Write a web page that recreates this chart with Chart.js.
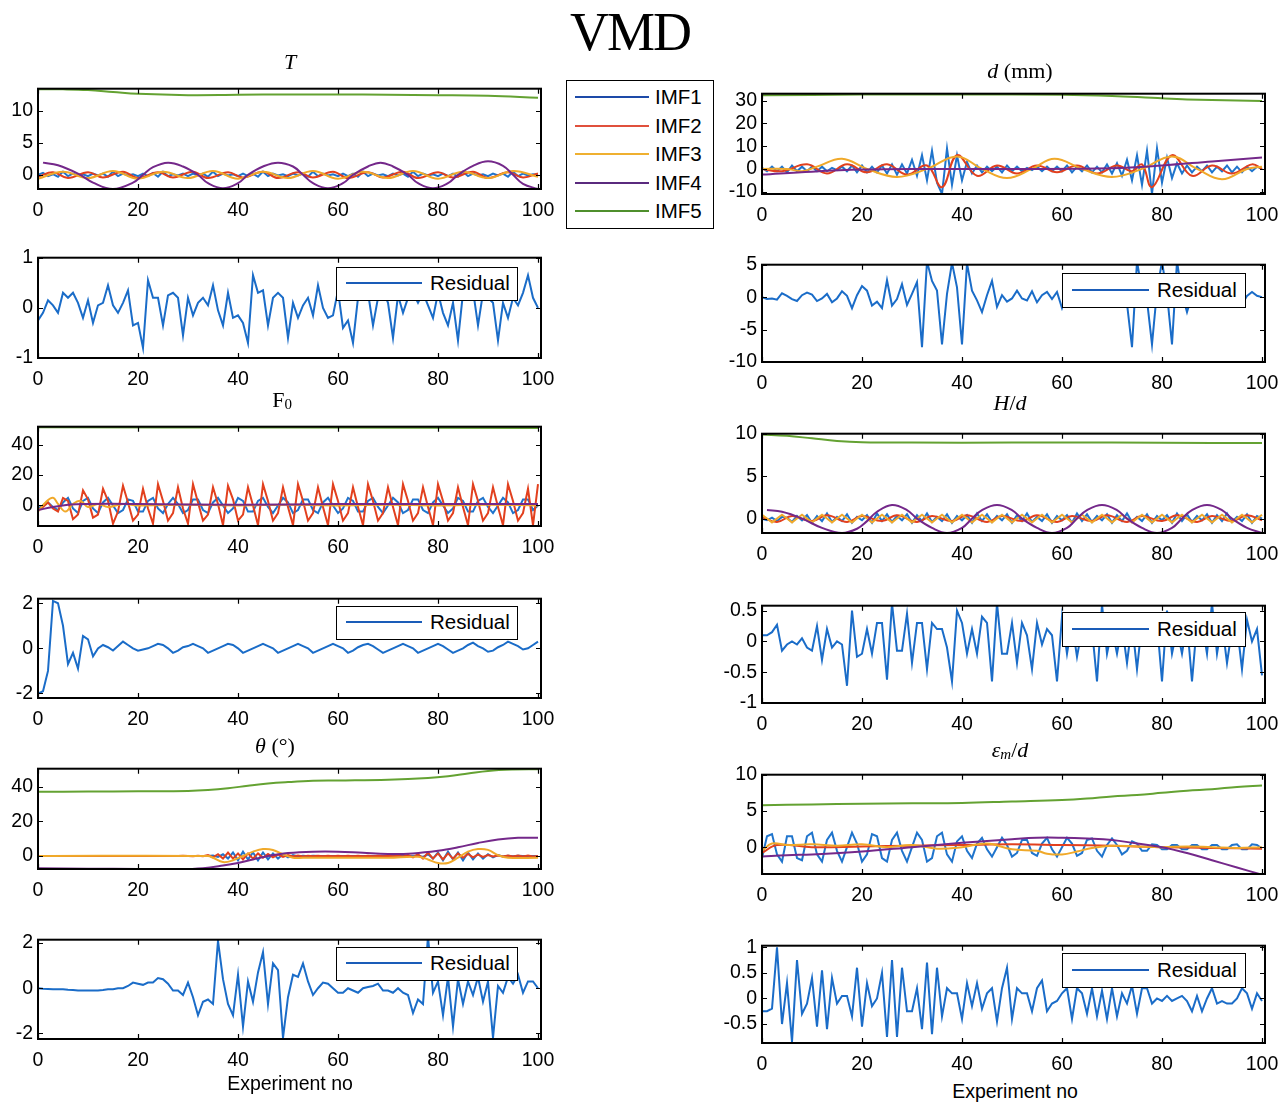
<!DOCTYPE html>
<html>
<head>
<meta charset="utf-8">
<script src="https://cdn.jsdelivr.net/npm/chart.js@4.4.0/dist/chart.umd.min.js"></script>
<style>
body{margin:0;background:#fff;width:1287px;height:1105px;position:relative;overflow:hidden;font-family:"Liberation Sans",Arial,sans-serif;color:#000}
.panel{position:absolute}
.ttl{position:absolute;transform:translate(-50%,-50%);font-family:"Liberation Serif","Times New Roman",serif;font-size:22px;white-space:nowrap}
.ttl sub{font-size:15px;vertical-align:-2px}
.xlab{position:absolute;transform:translate(-50%,-50%);font-size:19.5px}
.leg{position:absolute;border:1.5px solid #000;background:#fff;box-sizing:border-box}
.leg .row{position:absolute;left:0;right:0;height:22px}
.leg .ln{position:absolute;height:2px;top:10px}
.leg .tx{position:absolute;top:0;font-size:20.5px;line-height:22px}
#vmd{position:absolute;left:630px;top:32px;transform:translate(-50%,-50%);font-family:"Liberation Serif","Times New Roman",serif;font-size:54px;letter-spacing:-2px}
</style>
</head>
<body>
<div id="vmd">VMD</div>

<script>
// ---- axis ticks ----
const xTicks = [0, 20, 40, 60, 80, 100]
const xMax = 100.6

// ---- T ----
const tImf1 = [
  0, 0.3, -0.2, 0.1, -0.3, 0.5, -0.2, 0.2, -0.1, 0.1,
  -0.2, 0.2, -0.1, 0.2, -0.3, 0.5, -0.2, 0.2, -0.1, 0.1,
  -0.2, 0.2, -0.2, 0.3, -0.3, 0.5, -0.2, 0.1, -0.1, 0.2,
  -0.2, 0.2, -0.1, 0.2, -0.3, 0.5, -0.2, 0.2, -0.1, 0.1,
  -0.2, 0.2, -0.2, 0.2, -0.3, 0.5, -0.2, 0.2, -0.1, 0.1,
  -0.2, 0.2, -0.1, 0.2, -0.3, 0.5, -0.2, 0.2, -0.1, 0.1,
  -0.2, 0.2, -0.2, 0.2, -0.3, 0.5, -0.2, 0.2, -0.1, 0.1,
  -0.2, 0.2, -0.1, 0.2, -0.3, 0.5, -0.2, 0.2, -0.1, 0.1,
  -0.2, 0.2, -0.2, 0.2, -0.3, 0.5, -0.2, 0.2, -0.1, 0.1,
  -0.2, 0.2, -0.1, 0.2, -0.3, 0.5, -0.2, 0.2, -0.1, 0.1,
  0]
const tImf2X = [0,3,6,10,13,17,20,24,27,31,34,38,41,45,48,52,55,59,62,66,69,73,76,80,83,87,90,94,97,100]
const tImf2Y = [-0.3,0.4,-0.5,0.4,-0.4,0.5,-0.5,0.4,-0.4,0.5,-0.5,0.4,-0.4,0.5,-0.5,0.4,-0.4,0.5,-0.5,0.4,-0.4,0.5,-0.5,0.4,-0.4,0.5,-0.5,0.4,-0.4,0.2]
const tImf3X = [0,5,10,15,20,25,30,35,40,45,50,55,60,65,70,75,80,85,90,95,100]
const tImf3Y = [-0.6,0.5,-0.5,0.6,-0.6,0.5,-0.5,0.6,-0.6,0.5,-0.5,0.6,-0.6,0.5,-0.5,0.6,-0.6,0.5,-0.5,0.6,-0.3]
const tImf4X = [1,4,8,11,15,19,21,23,26,29,32,34,37,40,42,45,48,51,53,55,58,61,63,66,68.5,71,74,76,79,82,84,87,90,93,95,97,100]
const tImf4Y = [1.9,1.5,0.2,-1.2,-2.2,-1.2,0,1.2,1.9,1.3,0,-1.3,-2.1,-1.3,0,1.3,1.9,1.3,0,-1.3,-2.1,-1.3,0,1.3,1.9,1.3,0,-1.3,-2.1,-1.3,0,1.4,2.1,1.4,0,-1.4,-2.2]
const tImf5X = [0,5,10,15,20,30,40,50,60,70,80,90,100]
const tImf5Y = [13.3,13.3,13.2,12.9,12.6,12.4,12.45,12.5,12.5,12.45,12.4,12.3,12.0]
const tRes = [
  -0.25,-0.1,0.15,0.05,-0.1,0.3,0.2,0.3,0.1,-0.2,
  0.15,-0.3,0.05,0.1,0.45,0.05,-0.1,0.1,0.35,-0.35,
  -0.3,-0.8,0.55,0.2,0.2,-0.35,0.25,0.3,0.2,-0.55,
  0.2,-0.15,0.1,0.2,0.05,0.45,-0.05,-0.35,0.3,-0.2,
  -0.15,-0.3,-0.7,0.65,0.3,0.35,-0.35,0.2,0.3,0.2,
  -0.6,0.1,-0.2,0.05,0.2,-0.15,0.45,0,-0.2,-0.15,
  0.35,-0.4,-0.25,-0.7,0.2,0.4,0.3,-0.35,0.2,0.35,
  0.1,-0.6,0.25,-0.1,0.2,0.3,0.1,0.3,0.05,-0.2,
  0.3,-0.1,-0.35,0.1,-0.65,0.3,0.2,0.35,-0.35,0.3,
  0.2,0.1,-0.65,0.1,-0.2,0.2,0.05,0.3,0.65,0.2,
  0]

// ---- d (mm) ----
const dImf1 = [
  0.5,-1,1,-1,1,-1.5,1.5,-1,1,-1,
  1,-1,1,-1,0.5,-0.5,1,-1,1.5,-1.5,
  1.5,-1.5,1,-1.5,1.5,-2,2,-2.5,2,-2,
  4,-3,6,-5,8,-6,-11,9,-7,6,
  -5,3,-2,1.5,-1.5,1,-1,1,-1.5,1.5,
  -1,1,-1,0.5,-0.5,1,-1,1,-1,1,
  -1,1.5,-1.5,1,-1,1.5,-1.5,1,-1.5,2,
  -2,2.5,-3,4,-5,6,-7,8,-11,9,
  -6,5,-4,2.5,-2,1.5,-1.5,1,-1,1.5,
  -1.5,1,-1,1.5,-1.5,1,-1.5,1,-1,1,
  0]
const dImf2X = [0,4,9,13,17,21,25,29,33,36,39,43,47,51,55,59,63,67,71,74,76,78,82,86,90,94,98,100]
const dImf2Y = [0,-1,2,-2,2,-1.5,2,-2.5,1.5,-8,6,-3,1.5,-2,1.5,-1.5,1.5,-2,1.5,-1,2,-8,6,-3,1.5,-2,2,0]
const dImf3X = [0,5,8,11,16,21,27,33,39,44,49,54,58.5,64,70,76,82,87,92,97,100]
const dImf3Y = [0,0,-1,1,4.5,0,-3.5,0,5.5,0,-4,0,4.5,0,-3.5,0,5.5,0,-4.5,0,1]
const dImf4X = [0,10,20,30,50,70,80,90,100]
const dImf4Y = [-2.5,-1.2,-0.3,0,0,0.3,1.5,3.3,5]
const dImf5X = [0,20,40,60,70,78,85,100]
const dImf5Y = [32.3,32.6,32.7,32.5,32,31.2,30.5,29.8]
const dRes = [
  0,-0.3,-0.2,-0.4,0.6,0.2,-0.3,-0.6,0.3,0.7,
  0.4,-0.6,-0.2,0.5,-0.8,-0.2,0.9,0.2,-1.7,0.3,
  1.7,1.0,-1.3,-0.7,-1.7,2.6,-1.3,-0.3,2.0,-1.2,
  0.5,2.3,-7.7,5.5,2.5,1.0,-7.3,0.5,5.3,1.5,
  -7.3,5.2,1.0,-0.5,-2.3,0.3,2.5,-1.5,0.3,-0.7,
  -0.2,1.0,-0.2,-0.5,0.9,-0.8,0.3,0.8,-0.3,0.8,
  -1.7,0.5,1.0,-0.5,0.3,-0.8,0.5,-0.5,1.0,-0.8,
  0.4,-1.2,1.5,-1.0,-7.7,5.5,1.0,-0.5,-7.3,1.0,
  5.5,0.5,-7.3,5.5,0.5,-2.3,0.3,-0.8,0.6,-0.6,
  0.3,-0.4,0.5,-0.5,0.4,-0.4,-1.2,0.2,0.8,0.2,
  0]

// ---- F0 ----
const fImf1 = [
  -2,0,2,-1,-3,2,5,-2,-5,3,
  5,-2,-5,2,5,0,-5,-3,4,3,
  -4,-4,3,5,-2,-5,1,5,1,-5,
  -3,4,4,-3,-5,2,5,0,-5,-2,
  5,3,-4,-4,3,5,-1,-5,0,5,
  2,-5,-3,4,4,-3,-5,2,5,0,
  -5,-2,5,3,-4,-4,3,5,-1,-5,
  0,5,2,-5,-3,4,4,-3,-5,2,
  5,0,-5,-2,5,3,-4,-4,3,5,
  -1,-5,0,5,2,-5,-3,4,4,-3,
  0]
const fImf2 = [
  -3,-1,2,-2,-4,5,3,-9,-6,10,
  4,-8,-6,11,3,-12,-4,13,2,-10,
  -6,11,-2,-12,14,3,-10,-5,12,-2,
  -12,14,2,-10,-6,12,1,-13,13,4,
  -10,-6,12,0,-13,14,3,-10,-5,12,
  -1,-13,14,3,-10,-5,12,-1,-13,14,
  3,-10,-5,12,-1,-13,14,3,-10,-5,
  12,-1,-13,14,3,-10,-5,12,-1,-13,
  14,3,-10,-5,12,-1,-13,14,3,-10,
  -5,12,-1,-13,14,3,-10,-5,11,-13,
  14]
const fImf3X = [0,1.5,3,4,5.5,7,8.5,10,12,14,17,20,30,40,50,60,70,80,90,100]
const fImf3Y = [-4,2,5,1,-4,1,3,-1,1,-1,1,0,0.5,0,0.5,0,0.5,0,0.5,0]
const fImf4X = [0,3,6,10,20,40,60,80,100]
const fImf4Y = [-3,-1,0.5,1,1,0.5,1,1,1]
const fImf5X = [0,50,100]
const fImf5Y = [51.4,51.2,51.0]
const fRes = [
  -2.0,-1.9,-1.0,2.1,2.0,1.0,-0.7,-0.2,-0.9,0.55,
  0.4,-0.35,0.0,0.15,0.05,-0.1,0.1,0.3,0.15,0.0,
  -0.1,-0.05,0,0.1,0.2,0.15,0,-0.2,-0.1,0.05,
  0.1,0.2,0.1,0,-0.2,-0.1,0,0.1,0.2,0.15,
  0,-0.2,-0.1,0,0.1,0.2,0.1,0,-0.2,-0.1,
  0,0.1,0.2,0.1,0,-0.2,-0.1,0,0.1,0.2,
  0.1,0,-0.2,-0.1,0.05,0.15,0.2,0.1,-0.05,-0.2,
  -0.1,0,0.1,0.2,0.1,0,-0.2,-0.1,0,0.1,
  0.2,0.1,-0.05,-0.2,-0.1,0,0.15,0.25,0.1,0,
  -0.15,-0.1,0.05,0.15,0.3,0.2,0.1,-0.05,0,0.15,
  0.3]

// ---- H/d ----
const hImf1 = [
  0,-0.2,0.1,-0.3,0.2,0.1,-0.4,0.3,-0.2,0.4,
  -0.5,0.3,-0.3,0.6,-0.4,0.2,-0.3,0.5,-0.5,0.2,
  -0.2,0.4,-0.5,0.6,-0.3,0.5,-0.4,0.3,-0.2,0.5,
  -0.5,0.4,-0.3,0.6,-0.4,0.2,-0.3,0.5,-0.5,0.3,
  -0.2,0.4,-0.5,0.6,-0.3,0.5,-0.4,0.3,-0.2,0.5,
  -0.5,0.4,-0.3,0.6,-0.4,0.2,-0.3,0.5,-0.5,0.3,
  -0.2,0.4,-0.5,0.6,-0.3,0.5,-0.4,0.3,-0.2,0.5,
  -0.5,0.4,-0.3,0.6,-0.4,0.2,-0.3,0.5,-0.5,0.3,
  -0.2,0.4,-0.5,0.6,-0.3,0.5,-0.4,0.3,-0.2,0.5,
  -0.5,0.4,-0.3,0.6,-0.4,0.2,-0.3,0.5,-0.5,0.3,
  0]
const hImf2X = [0,3,6,10,13,17,20,24,27,31,34,38,41,45,48,52,55,59,62,66,69,73,76,80,83,87,90,94,97,100]
const hImf2Y = [0.2,-0.4,0.3,-0.3,0.4,-0.4,0.3,-0.3,0.4,-0.4,0.3,-0.3,0.4,-0.4,0.3,-0.3,0.4,-0.4,0.3,-0.3,0.4,-0.4,0.3,-0.3,0.4,-0.4,0.3,-0.3,0.4,-0.2]
const hImf3 = [
  0.45,0,-0.45,0,0.45,0,-0.45,0,0.45,0,
  -0.45,0,0.45,0,-0.45,0,0.45,0,-0.45,0,
  0.45,0,-0.45,0,0.45,0,-0.45,0,0.45,0,
  -0.45,0,0.45,0,-0.45,0,0.45,0,-0.45,0,
  0.45,0,-0.45,0,0.45,0,-0.45,0,0.45,0,
  -0.45,0,0.45,0,-0.45,0,0.45,0,-0.45,0,
  0.45,0,-0.45,0,0.45,0,-0.45,0,0.45,0,
  -0.45,0,0.45,0,-0.45,0,0.45,0,-0.45,0,
  0.45,0,-0.45,0,0.45,0,-0.45,0,0.45,0,
  -0.45,0,0.45,0,-0.45,0,0.45,0,-0.45,0,
  0.45]
const hImf4X = [1,4,8,12,16,19,21,23,26,29,31,34,37,40,42,44,47,50,52,55,58,61,63,65,68,71,73,76,79,82,84,86,89,92,94,97,100]
const hImf4Y = [1.0,0.8,0,-1.1,-1.7,-1.2,-0.3,0.8,1.6,1.0,0,-1.1,-1.7,-1.1,0,1.0,1.6,1.0,0,-1.1,-1.7,-1.1,0,1.0,1.6,1.0,0,-1.1,-1.7,-1.1,0,1.0,1.6,1.0,0,-1.1,-1.7]
const hImf5X = [0,5,10,15,20,30,50,70,90,100]
const hImf5Y = [9.9,9.75,9.45,9.15,9.0,8.95,8.95,8.95,8.9,8.9]
const hRes = [
  0.1,0.1,0.15,0.27,-0.15,-0.05,0.0,-0.05,0.05,-0.1,
  -0.15,0.25,-0.3,0.2,-0.1,0.0,-0.05,-0.72,0.5,-0.25,
  -0.2,0.2,-0.2,0.3,0.3,-0.62,0.62,-0.15,-0.15,0.45,
  -0.35,0.3,0.3,-0.45,0.3,0.2,0.2,-0.1,-0.65,0.5,
  0.3,-0.2,0.2,-0.2,0.4,0.3,-0.65,0.62,-0.2,-0.2,
  0.3,-0.35,0.3,0.1,-0.45,0.3,-0.05,0.2,0.1,-0.65,
  0.4,-0.2,0.3,-0.25,0.2,0.1,0.2,-0.65,0.6,-0.2,
  0.2,-0.2,0.25,-0.35,0.3,-0.45,0.3,0.1,0.2,0.3,
  -0.65,0.5,-0.2,0.2,-0.2,0.3,-0.65,0.3,0.3,-0.2,
  0.62,-0.2,0.3,-0.35,0.2,0.25,-0.45,0.35,0.0,0.2,
  -0.55]

// ---- theta ----
const thImf1 = [
  0,0,0,0,0,0,0,0,0,0,
  0,0,0,0,0,0,0,0,0,0,
  0,0,0,0,0,0,0,0,0,0,
  0,0,0,0,0,0.3,-0.5,1,-1.5,2,
  -2.5,2.5,-2,2,-2.5,2,-2,1.5,-1.5,1,
  -0.8,0.5,-0.3,0.2,-0.1,0.1,0,0,0,0,
  0,0,0,0,0,0,0,0,0,0,
  0,0,0,0,0,0,0.3,-0.5,1,-1.5,
  2,-2.5,2.5,-2,2,-2.5,2,-2,1.5,-1.5,
  1,-0.8,0.5,-0.3,0.2,-0.1,0.1,0,0,0,
  0]
const thImf2 = [
  0,0,0,0,0,0,0,0,0,0,
  0,0,0,0,0,0,0,0,0,0,
  0,0,0,0,0,0,0,0,0,0.1,
  0,-0.1,0.2,-0.2,0.5,-0.8,1,-1.5,2,-1.5,
  1.5,-2,1.5,-1.5,1.5,-1,1.2,-0.8,0.8,-0.5,
  0.5,-0.3,0.3,-0.3,0.2,-0.2,0.2,-0.2,0.2,-0.2,
  0.2,-0.2,0.2,-0.2,0.2,-0.2,0.2,-0.2,0.2,-0.2,
  0.2,-0.2,0.2,-0.3,0.5,-0.8,1,-1.5,2,-1.5,
  1.5,-2,1.5,-1.5,1.5,-1,1.2,-0.8,0.8,-0.5,
  0.5,-0.3,0.3,-0.3,0.3,-0.3,0.3,-0.3,0.3,-0.3,
  0]
const thImf3X = [0,34,35,37,39,41,43,45,47,49,51,53,56,70,76,78,80,82,84,86,88,90,92,94,100]
const thImf3Y = [0,0,-1,-3.5,-2.5,0,2.5,4,3.5,1,-1,-1,-1,-1,-0.5,-2,-4,-4,-1,2.5,4,3.5,0.5,-1,-1]
const thImf4X = [0,10,20,28,33,37,40,43,46,50,55,60,65,70,75,80,84,88,92,96,100]
const thImf4Y = [-7,-7.3,-7.5,-7.6,-7,-5.5,-4,-2,0,1.7,2.5,2.5,1.8,1.2,1.5,3,5,7.5,9.5,10.5,10.5]
const thImf5X = [0,10,20,30,34,38,42,46,50,55,60,70,78,82,86,90,95,100]
const thImf5Y = [37,37.1,37.3,37.5,38,39,40.5,41.8,42.6,43.3,43.5,44,45,46,47.5,49,49.8,50]
const thRes = [
  0,-0.02,-0.03,-0.05,-0.05,-0.05,-0.07,-0.08,-0.1,-0.1,
  -0.1,-0.1,-0.1,-0.08,-0.05,-0.05,0,0,0.1,0.25,
  0.2,0.15,0.25,0.25,0.45,0.4,0.2,-0.1,-0.1,-0.3,
  0.25,-0.4,-1.2,-0.6,-0.5,-0.7,2.1,0.4,-0.7,-1.2,
  0.6,-1.7,0.3,-0.6,0.7,1.6,-0.7,1.1,0.8,-2.2,
  -0.4,0.6,0.5,1.1,0.3,-0.3,0.0,0.25,0.2,0.0,
  -0.2,-0.2,0.0,-0.1,-0.2,0.0,0.05,0.1,0.2,-0.1,
  -0.1,-0.2,0.0,-0.2,-0.3,-1.1,-0.5,-0.7,2.3,-0.2,
  0.3,-1.2,0.5,-1.7,0.4,-0.7,0.3,-0.3,0.5,-0.6,
  0.3,-2.2,0.1,-0.2,0.5,0.2,0.6,-0.2,0.3,0.3,
  0]

// ---- eps_m/d ----
const eImf1 = [
  -1.5,1.5,1.8,-1,-2,1.5,1.5,-1.5,-1.8,1.5,
  2,-1,-2,1,2,-0.5,-2,0,2,0.5,
  -2,-1,1.8,1.5,-1.5,-2,1,2,-0.5,-2,
  0,2,1,-2,-1.5,1.5,2,-1,-2,0.8,
  1.5,-0.5,-1.5,0.5,1.3,-0.3,-1.3,0,1.3,0.3,
  -1.3,-0.8,1,1,-0.8,-1.2,0.5,1.3,-0.3,-1.3,
  0,1.3,0.5,-1.2,-0.8,1,1.2,-0.5,-1.3,0.3,
  1.2,0.3,-1,-0.5,0.8,0.5,-0.5,-0.5,0.4,0.3,
  -0.3,-0.3,0.3,0.3,-0.3,-0.3,0.3,0.3,-0.3,-0.3,
  0.3,0.3,-0.3,-0.3,0.3,0.4,-0.3,-0.3,0.4,0.3,
  -0.2]
const eImf2X = [0,3,10,20,30,40,50,60,70,80,90,100]
const eImf2Y = [-0.8,0.3,0,0.1,0.2,0.3,0.4,0.3,0.2,0,-0.1,-0.2]
const eImf3X = [0,2,5,10,15,20,25,30,35,40,45,50,55,57,60,63,66,70,75,80,85,90,95,100]
const eImf3Y = [-0.5,0.5,0.3,0.4,0.2,0.4,0,0.3,-0.2,0,0.5,-0.3,-0.5,-0.9,-1,-0.6,-0.1,0.2,0.1,0,0.1,0,-0.1,0]
const eImf4X = [0,5,10,20,30,40,50,55,60,65,70,75,80,85,90,95,100]
const eImf4Y = [-1.3,-1.1,-1.0,-0.6,0,0.6,1.1,1.3,1.3,1.2,1.0,0.5,0,-0.8,-1.8,-2.8,-3.8]
const eImf5X = [0,10,20,30,40,50,60,65,70,75,80,85,90,95,100]
const eImf5Y = [5.8,5.9,6.0,6.05,6.1,6.3,6.5,6.7,7.0,7.2,7.5,7.8,8.0,8.3,8.5]
const eRes = [
  -0.25,-0.25,-0.2,1.0,-0.5,0.3,-0.85,0.75,-0.3,-0.1,
  0.4,-0.55,0.55,-0.6,0.4,-0.1,0.05,0.05,-0.35,0.6,
  -0.55,0.3,-0.15,0.0,0.5,-0.75,0.75,-0.75,0.6,-0.25,
  -0.25,0.2,-0.6,0.7,-0.7,0.6,-0.35,0.2,0.1,0.1,
  -0.4,0.3,-0.15,0.3,-0.2,0.1,0.2,-0.45,0.2,0.6,
  -0.4,0.2,0.1,0.1,-0.25,0.2,0.35,-0.25,-0.1,-0.05,
  0.1,0.2,-0.4,0.2,0.1,-0.3,0.2,-0.35,0.15,-0.4,
  0.2,-0.35,0.1,-0.1,0.25,-0.3,0.2,0.2,-0.1,0.0,
  -0.05,0.05,-0.05,0.0,0.05,-0.05,-0.25,0.05,-0.25,0.0,
  0.2,-0.1,-0.05,-0.1,-0.1,0.0,0.2,0.1,-0.2,0.1,
  -0.05]

// ---- colours ----
const C_IMF1 = '#1f74cc'
const C_IMF2 = '#e2401e'
const C_IMF3 = '#f0a92a'
const C_IMF4 = '#74288a'
const C_IMF5 = '#64a232'
const C_RES = '#1a6cc8'

const tickFont = {family: '"Liberation Sans", Arial, sans-serif', size: 19.5}

function pts(ys, xs){
    return ys.map((y, i) => ({x: xs ? xs[i] : i, y: y}))
}

function line(data, color, smooth, order){
    return {data: data, borderColor: color, borderWidth: 2, tension: smooth ? 0.4 : 0, pointRadius: 0, order: order || 0}
}

function imfSets(i1, i2, i3, i4, i5){
    return [
        line(i1[0], C_IMF1, i1[1], 5),
        line(i2[0], C_IMF2, i2[1], 4),
        line(i3[0], C_IMF3, i3[1], 3),
        line(i4[0], C_IMF4, i4[1], 2),
        line(i5[0], C_IMF5, i5[1], 1)
    ]
}

// box and inward tick marks, like the original axes
const framePlugin = {
    id: 'frame',
    afterDatasetsDraw(chart){
        const {ctx, chartArea: a, scales} = chart
        ctx.save()
        ctx.strokeStyle = '#000'
        ctx.lineWidth = 1.2
        ctx.beginPath()
        scales.x.ticks.forEach(t => {
            const px = Math.round(scales.x.getPixelForValue(t.value)) + 0.5
            ctx.moveTo(px, a.bottom); ctx.lineTo(px, a.bottom - 5)
            ctx.moveTo(px, a.top); ctx.lineTo(px, a.top + 5)
        })
        scales.y.ticks.forEach(t => {
            const py = Math.round(scales.y.getPixelForValue(t.value)) + 0.5
            ctx.moveTo(a.left, py); ctx.lineTo(a.left + 5, py)
            ctx.moveTo(a.right, py); ctx.lineTo(a.right - 5, py)
        })
        ctx.stroke()
        ctx.lineWidth = 2
        ctx.strokeRect(a.left, a.top, a.width, a.height)
        ctx.restore()
    }
}

const PADL = 54, PADR = 26, PADT = 14, PADB = 36

function makePanel(left, top, width, height, yMin, yMax, yTicks, datasets){
    const div = document.createElement('div')
    div.className = 'panel'
    div.style.left = (left - PADL) + 'px'
    div.style.top = (top - PADT) + 'px'
    div.style.width = (width + PADL + PADR) + 'px'
    div.style.height = (height + PADT + PADB) + 'px'
    const canvas = document.createElement('canvas')
    div.appendChild(canvas)
    document.body.appendChild(div)

    return new Chart(canvas, {
        type: 'line',
        data: {datasets: datasets},
        options: {
            responsive: true,
            maintainAspectRatio: false,
            animation: false,
            layout: {padding: {left: 0, right: PADR, top: PADT, bottom: 0}},
            plugins: {legend: {display: false}, tooltip: {enabled: false}},
            scales: {
                x: {
                    type: 'linear', min: 0, max: xMax,
                    afterBuildTicks: s => { s.ticks = xTicks.map(v => ({value: v})) },
                    afterFit: s => { s.height = PADB },
                    grid: {display: false, drawTicks: false}, border: {display: false},
                    ticks: {font: tickFont, color: '#000', padding: 10, maxRotation: 0, autoSkip: false, callback: v => String(v)}
                },
                y: {
                    type: 'linear', min: yMin, max: yMax,
                    afterBuildTicks: s => { s.ticks = yTicks.map(v => ({value: v})) },
                    afterFit: s => { s.width = PADL },
                    grid: {display: false, drawTicks: false}, border: {display: false},
                    ticks: {font: tickFont, color: '#000', padding: 5, autoSkip: false, callback: v => String(v)}
                }
            }
        },
        plugins: [framePlugin]
    })
}

const LX = 38, RX = 762, W = 503

// left column
makePanel(LX, 86, W, 103, -2.2, 13.4, [0, 5, 10], imfSets(
    [pts(tImf1), false], [pts(tImf2Y, tImf2X), true], [pts(tImf3Y, tImf3X), true],
    [pts(tImf4Y, tImf4X), true], [pts(tImf5Y, tImf5X), true]))
makePanel(LX, 255, W, 103, -1, 1, [-1, 0, 1], [line(pts(tRes), C_RES, false)])
makePanel(LX, 424, W, 102, -13.5, 51.8, [0, 20, 40], imfSets(
    [pts(fImf1), false], [pts(fImf2), false], [pts(fImf3Y, fImf3X), true],
    [pts(fImf4Y, fImf4X), true], [pts(fImf5Y, fImf5X), true]))
makePanel(LX, 596, W, 102, -2.2, 2.2, [-2, 0, 2], [line(pts(fRes), C_RES, false)])
makePanel(LX, 766, W, 103, -7.5, 50.3, [0, 20, 40], imfSets(
    [pts(thImf1), false], [pts(thImf2), false], [pts(thImf3Y, thImf3X), true],
    [pts(thImf4Y, thImf4X), true], [pts(thImf5Y, thImf5X), true]))
makePanel(LX, 937, W, 102, -2.25, 2.15, [-2, 0, 2], [line(pts(thRes), C_RES, false)])

// right column
makePanel(RX, 91, W, 103, -11, 33, [-10, 0, 10, 20, 30], imfSets(
    [pts(dImf1), false], [pts(dImf2Y, dImf2X), true], [pts(dImf3Y, dImf3X), true],
    [pts(dImf4Y, dImf4X), true], [pts(dImf5Y, dImf5X), true]))
makePanel(RX, 262, W, 100, -10, 5, [-10, -5, 0, 5], [line(pts(dRes), C_RES, false)])
makePanel(RX, 431, W, 102, -1.7, 10, [0, 5, 10], imfSets(
    [pts(hImf1), false], [pts(hImf2Y, hImf2X), true], [pts(hImf3), false],
    [pts(hImf4Y, hImf4X), true], [pts(hImf5Y, hImf5X), true]))
makePanel(RX, 603, W, 100, -1, 0.58, [-1, -0.5, 0, 0.5], [line(pts(hRes), C_RES, false)])
makePanel(RX, 772, W, 102, -3.7, 10, [0, 5, 10], imfSets(
    [pts(eImf1), false], [pts(eImf2Y, eImf2X), true], [pts(eImf3Y, eImf3X), true],
    [pts(eImf4Y, eImf4X), true], [pts(eImf5Y, eImf5X), true]))
makePanel(RX, 943, W, 100, -0.87, 1.03, [-0.5, 0, 0.5, 1], [line(pts(eRes), C_RES, false)])

// ---- texts ----
function addText(cls, html, x, y){
    const d = document.createElement('div')
    d.className = cls
    d.innerHTML = html
    d.style.left = x + 'px'
    d.style.top = y + 'px'
    document.body.appendChild(d)
}
addText('ttl', '<i>T</i>', 290, 62)
addText('ttl', '<i>d</i> (mm)', 1020, 71)
addText('ttl', 'F<sub>0</sub>', 282, 400)
addText('ttl', '<i>H</i>/<i>d</i>', 1010, 403)
addText('ttl', '<i>θ</i> (°)', 275, 746)
addText('ttl', '<i>ε<sub>m</sub></i>/<i>d</i>', 1010, 750)
addText('xlab', 'Experiment no', 290, 1083)
addText('xlab', 'Experiment no', 1015, 1091)

// ---- legends ----
const imfNames = ['IMF1', 'IMF2', 'IMF3', 'IMF4', 'IMF5']
const imfLegendColors = ['#1d4aa8', '#e0503c', '#efb030', '#5a2a7e', '#4f8f2c']

function addLegend(x, y, w, h, names, colors, rowTops, lineX, lineW, textX){
    const box = document.createElement('div')
    box.className = 'leg'
    box.style.left = x + 'px'; box.style.top = y + 'px'
    box.style.width = w + 'px'; box.style.height = h + 'px'
    names.forEach((n, i) => {
        const row = document.createElement('div')
        row.className = 'row'
        row.style.top = rowTops[i] + 'px'
        row.innerHTML = '<div class="ln" style="left:' + lineX + 'px;width:' + lineW + 'px;background:' + colors[i] + '"></div>' +
            '<div class="tx" style="left:' + textX + 'px">' + n + '</div>'
        box.appendChild(row)
    })
    document.body.appendChild(box)
}

addLegend(566, 80, 148, 149, imfNames, imfLegendColors, [5, 34, 62, 91, 119], 8, 74, 88)

const resLegendsL = [267, 606, 947]
const resLegendsR = [273, 612, 953]
resLegendsL.forEach(y => addLegend(336, y, 182, 34, ['Residual'], ['#1a5cb8'], [4], 9, 76, 93))
resLegendsR.forEach(y => addLegend(1062, y, 184, 35, ['Residual'], ['#1a5cb8'], [5], 9, 77, 94))
</script>
</body>
</html>
